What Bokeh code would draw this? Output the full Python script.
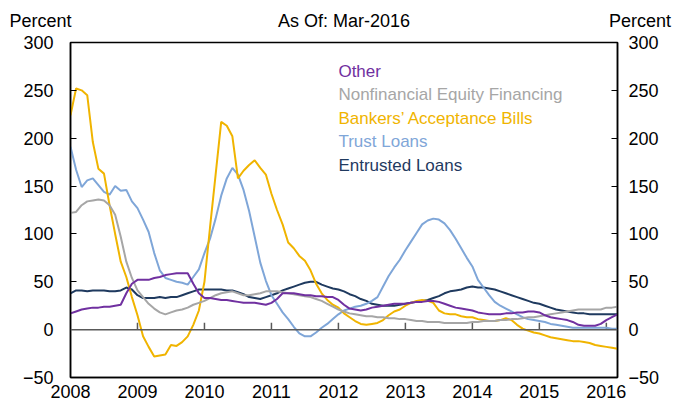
from bokeh.plotting import figure
from bokeh.models import LinearAxis, FixedTicker, Span, Label, Range1d
from bokeh.embed import file_html
from bokeh.resources import INLINE

# Monthly data Jan-2008 .. Mar-2016 (percent)
bankers_acceptance = [
    224, 252, 250, 245, 196, 168, 163, 130, 100, 71, 55, 34,
    15, -7, -18, -28, -27, -26, -16, -17, -13, -7, 5, 20,
    50, 107, 162, 217, 213, 202, 158, 166, 172, 177, 169, 162,
    142, 125, 110, 91, 85, 77, 72, 62, 48, 38, 31, 26,
    23, 17, 13, 9, 6, 5, 6, 7, 10, 15, 19, 21,
    25, 28, 30, 31, 30, 28, 20, 17, 16, 16, 14, 13,
    13, 11, 10, 9, 9, 10, 12, 10, 5, 1, -1, -3,
    -4, -6, -8, -9, -10, -11, -12, -12, -13, -14, -16, -17,
    -18, -19, -20,
]
trust_loans = [
    191, 167, 149, 156, 158, 151, 144, 141, 150, 145, 146, 134,
    127, 115, 102, 80, 62, 54, 52, 50, 49, 47, 55, 63,
    80, 95, 116, 140, 158, 169, 162, 146, 124, 97, 70, 51,
    36, 27, 18, 11, 3, -4, -7, -7, -3, 2, 6, 11,
    16, 20, 22, 24, 25, 27, 30, 34, 45, 56, 65, 73,
    83, 92, 101, 110, 114, 116, 115, 111, 104, 95, 85, 75,
    66, 52, 44, 36, 29, 25, 22, 19, 16, 13, 11, 10,
    9, 8, 6, 5, 4, 3, 2, 2, 2, 2, 2, 2,
    2, 1, 1,
]
nonfin_equity = [
    122, 123, 130, 134, 135, 136, 135, 130, 120, 97, 71, 54,
    41, 34, 27, 22, 18, 16, 18, 20, 21, 23, 26, 28,
    30, 33, 36, 38, 39, 40, 38, 36, 36, 37, 38, 40,
    40, 40, 39, 38, 37, 36, 35, 34, 32, 30, 27, 24,
    21, 19, 17, 16, 15, 14, 14, 13, 13, 12, 12, 11,
    11, 10, 9, 9, 8, 8, 8, 7, 7, 7, 7, 7,
    8, 8, 9, 9, 9, 10, 10, 11, 11, 12, 13, 13,
    14, 15, 16, 17, 18, 19, 20, 21, 21, 21, 21, 21,
    23, 23, 24,
]
other = [
    17, 19, 21, 22, 23, 23, 24, 24, 25, 26, 38, 48,
    52, 52, 52, 54, 55, 57, 58, 59, 59, 59, 48, 38,
    33, 33, 32, 31, 31, 30, 29, 28, 28, 28, 27, 26,
    28, 32, 38, 38, 38, 37, 36, 36, 35, 35, 34, 34,
    31, 26, 22, 21, 20, 21, 23, 24, 25, 26, 27, 27,
    27, 28, 29, 29, 30, 30, 29, 27, 25, 23, 22, 21,
    20, 18, 17, 16, 16, 16, 17, 17, 18, 18, 19, 19,
    18, 15, 13, 12, 11, 10, 8, 5, 4, 4, 4, 6,
    10, 13, 16,
]
entrusted_loans = [
    38, 41, 41, 40, 41, 41, 41, 40, 40, 41, 44, 42,
    36, 33, 33, 33, 34, 33, 34, 34, 36, 38, 40, 42,
    42, 42, 42, 42, 41, 41, 39, 37, 34, 33, 32, 34,
    36, 38, 41, 43, 45, 47, 49, 50, 50, 47, 45, 43,
    42, 40, 37, 35, 32, 30, 27, 26, 25, 25, 25, 26,
    27, 28, 29, 30, 31, 33, 35, 38, 40, 41, 42, 44,
    45, 44, 44, 43, 42, 40, 38, 36, 34, 32, 30, 28,
    27, 25, 23, 21, 20, 19, 18, 17, 17, 16, 16, 16,
    16, 16, 16,
]

start_year = 2008
n_months = len(other)
dates = [start_year + i / 12.0 for i in range(n_months)]

year_ticks = list(range(2008, 2017))
y_ticks = [-50, 0, 50, 100, 150, 200, 250, 300]

series_names = ["Other", "Nonfinancial Equity Financing", "Bankers\u2019 Acceptance Bills",
                "Trust Loans", "Entrusted Loans"]
series_values = [other, nonfin_equity, bankers_acceptance, trust_loans, entrusted_loans]
series_colors = ["#7030A0", "#A6A6A6", "#F0B400", "#7FA6D8", "#1F3A5F"]

left_unit = "Percent"
header_title = "As Of: Mar-2016"
right_unit = "Percent"

FONT = "Liberation Sans"
x_end = dates[-1]
y_lo, y_hi = -50, 300

W, H = 682, 412
BL, BR, BT, BB = 70, 65, 42, 35
frame_h = H - BT - BB
px_per_unit = frame_h / (y_hi - y_lo)

p = figure(width=W, height=H, output_backend="svg", toolbar_location=None,
           x_range=Range1d(start_year, x_end), y_range=Range1d(y_lo, y_hi),
           min_border_left=BL, min_border_right=BR, min_border_top=BT, min_border_bottom=BB)

p.background_fill_color = "white"
p.border_fill_color = "white"
p.outline_line_color = "black"
p.outline_line_width = 1.5
p.xgrid.visible = False
p.ygrid.visible = False

# left axis
p.yaxis.ticker = FixedTicker(ticks=y_ticks)
p.yaxis.major_tick_in = 6
p.yaxis.major_tick_out = 0
p.yaxis.minor_tick_line_color = None
p.yaxis.axis_line_color = "black"
p.yaxis.axis_line_width = 1.5
p.yaxis.major_tick_line_color = "black"
p.yaxis.major_label_standoff = 17
p.yaxis.major_label_text_font = FONT
p.yaxis.major_label_text_font_size = "18px"
p.yaxis.major_label_text_color = "black"

# right axis
ra = LinearAxis(ticker=FixedTicker(ticks=y_ticks))
ra.major_tick_in = 6
ra.major_tick_out = 0
ra.minor_tick_line_color = None
ra.axis_line_color = "black"
ra.axis_line_width = 1.5
ra.major_label_standoff = 11
ra.major_label_text_font = FONT
ra.major_label_text_font_size = "18px"
ra.major_label_text_color = "black"
p.add_layout(ra, "right")

# bottom axis (labels only; ticks drawn on zero line)
p.xaxis.ticker = FixedTicker(ticks=year_ticks)
p.xaxis.major_tick_in = 0
p.xaxis.major_tick_out = 0
p.xaxis.minor_tick_line_color = None
p.xaxis.axis_line_color = "black"
p.xaxis.axis_line_width = 1.5
p.xaxis.major_label_standoff = 7
p.xaxis.major_label_text_font = FONT
p.xaxis.major_label_text_font_size = "18px"
p.xaxis.major_label_text_color = "black"

# header row: an unlined axis above the frame whose three tick labels are the header texts
NB = "\u00a0"
p.extra_x_ranges = {"hdr": Range1d(0, 100)}
ha = LinearAxis(x_range_name="hdr", ticker=FixedTicker(ticks=[0, 50, 100]),
                major_label_overrides={0: left_unit + NB * 12,
                                       50: header_title,
                                       100: NB * 9 + right_unit})
ha.axis_line_color = None
ha.major_tick_line_color = None
ha.minor_tick_line_color = None
ha.major_tick_in = 0
ha.major_tick_out = 0
ha.major_label_standoff = 12
ha.major_label_text_font = FONT
ha.major_label_text_font_size = "18px"
ha.major_label_text_color = "black"
p.add_layout(ha, "above")

# zero line with upward year ticks
p.add_layout(Span(location=0, dimension="width", line_color="#595959", line_width=1.5))
tick_h = 7 / px_per_unit
p.segment(x0=year_ticks[1:], y0=[0] * (len(year_ticks) - 1),
          x1=year_ticks[1:], y1=[tick_h] * (len(year_ticks) - 1),
          line_color="#595959", line_width=1.5)

# lines (draw bottom legend entry first)
for name, vals, col in reversed(list(zip(series_names, series_values, series_colors))):
    p.line(dates, vals, line_color=col, line_width=2)

# legend as colored text
leg_x = 2012.0
leg_y = [269.5, 245.2, 220.8, 196.5, 172.0]
for name, col, yy in zip(series_names, series_colors, leg_y):
    p.add_layout(Label(x=leg_x, y=yy, text=name, text_color=col, text_font=FONT,
                       text_font_size="17px", text_baseline="alphabetic", text_align="left"))

open("out.html", "w").write(file_html(p, INLINE))
